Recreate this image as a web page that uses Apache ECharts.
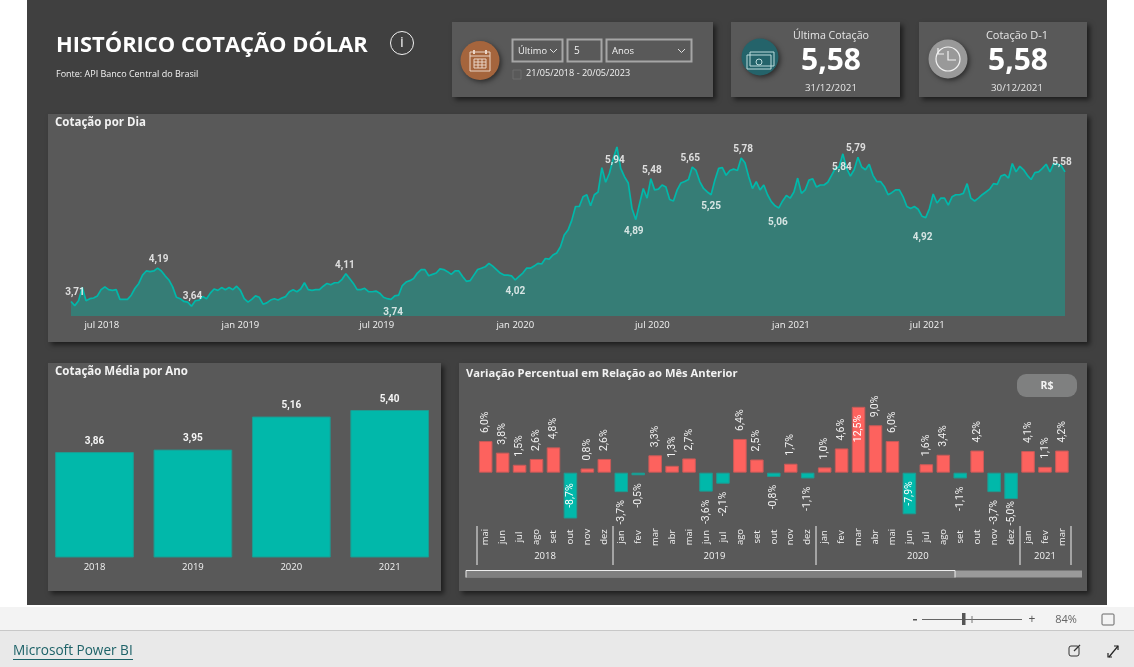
<!DOCTYPE html>
<html lang="pt">
<head>
<meta charset="utf-8">
<title>Histórico Cotação Dólar</title>
<script src="https://cdn.jsdelivr.net/npm/echarts@6/dist/echarts.min.js"></script>
<style>
html,body{margin:0;padding:0;background:#fff;width:1134px;height:667px;overflow:hidden}
#c{width:1134px;height:667px}
</style>
</head>
<body>
<div id="c"></div>
<script>
// ---------- data ----------
const firstDay = [2018, 4, 21];
const stepDays = 5;
const dailyRate = [
3.71,3.65,3.72,3.91,3.72,3.75,3.76,3.79,3.88,3.92,3.88,3.87,3.88,3.74,3.74,3.74,3.80,3.90,3.97,4.09,
4.15,4.14,4.15,4.19,4.15,4.08,4.02,3.92,3.77,3.75,3.71,3.70,3.64,3.72,3.73,3.78,3.75,3.83,3.89,3.87,
3.91,3.88,3.91,3.88,3.93,3.87,3.75,3.70,3.74,3.79,3.77,3.67,3.69,3.73,3.75,3.73,3.76,3.78,3.85,3.88,
3.85,3.89,3.98,3.88,3.87,3.88,3.88,3.93,3.97,3.95,3.98,3.98,4.03,4.11,4.04,3.97,3.88,3.88,3.90,3.85,
3.85,3.86,3.83,3.77,3.75,3.74,3.79,3.80,3.94,3.99,4.01,4.04,4.12,4.17,4.17,4.08,4.10,4.12,4.18,4.17,
4.14,4.10,4.15,4.15,4.07,4.00,4.01,4.09,4.17,4.19,4.21,4.26,4.22,4.17,4.12,4.09,4.09,4.08,4.02,4.07,
4.12,4.19,4.19,4.22,4.26,4.25,4.33,4.32,4.38,4.41,4.50,4.67,4.74,4.88,5.08,5.08,5.22,5.25,5.09,5.25,
5.29,5.64,5.43,5.56,5.77,5.94,5.63,5.51,5.42,5.05,4.89,5.12,5.34,5.20,5.48,5.32,5.33,5.39,5.36,5.18,
5.16,5.32,5.42,5.44,5.47,5.65,5.60,5.44,5.34,5.29,5.25,5.46,5.63,5.64,5.53,5.60,5.62,5.60,5.78,5.71,
5.51,5.34,5.44,5.32,5.39,5.25,5.15,5.09,5.06,5.16,5.24,5.20,5.29,5.49,5.27,5.32,5.46,5.48,5.36,5.39,
5.39,5.43,5.53,5.63,5.65,5.84,5.63,5.52,5.61,5.79,5.65,5.61,5.69,5.53,5.44,5.44,5.37,5.25,5.28,5.32,
5.32,5.22,5.08,5.05,5.08,5.04,4.94,4.92,5.05,5.26,5.13,5.20,5.20,5.10,5.22,5.25,5.25,5.27,5.41,5.20,
5.16,5.20,5.25,5.29,5.33,5.41,5.40,5.52,5.54,5.49,5.70,5.58,5.66,5.61,5.53,5.47,5.57,5.58,5.63,5.69,
5.58,5.70,5.69,5.67,5.58
];
const labelledPoints = [0,23,32,73,85,118,145,150,154,165,170,178,188,205,209,227,264];
const timeTickDays = [[2018,6,1],[2019,0,1],[2019,6,1],[2020,0,1],[2020,6,1],[2021,0,1],[2021,6,1]];
const timeTickNames = ['jul 2018','jan 2019','jul 2019','jan 2020','jul 2020','jan 2021','jul 2021'];

const yearNames = ['2018','2019','2020','2021'];
const yearAverage = [3.86,3.95,5.16,5.40];

const monthNames = ['mai','jun','jul','ago','set','out','nov','dez',
 'jan','fev','mar','abr','mai','jun','jul','ago','set','out','nov','dez',
 'jan','fev','mar','abr','mai','jun','jul','ago','set','out','nov','dez',
 'jan','fev','mar'];
const monthChange = [6.0,3.8,1.5,2.6,4.8,-8.7,0.8,2.6,
 -3.7,-0.5,3.3,1.3,2.7,-3.6,-2.1,6.4,2.5,-0.8,1.7,-1.1,
 1.0,4.6,12.5,9.0,6.0,-7.9,1.6,3.4,-1.1,4.2,-3.7,-5.0,
 4.1,1.1,4.2];
const yearBoundaries = [0,8,20,32,35];
const yearCentres = [4,14,26,33.5];

// ---------- presentation ----------
const NARROW = '"Liberation Sans Narrow","Roboto",sans-serif';
const UI = '"Open Sans","Noto Sans",sans-serif';
const TEAL = '#01B8AA', RED = '#FD625E', PANEL = '#595959', TXT = '#f2f2f2';
const comma = (v, d) => v.toFixed(d).replace('.', ',');
const dayAt = i => new Date(firstDay[0], firstDay[1], firstDay[2] + i * stepDays);
const tickTimes = timeTickDays.map(d => new Date(d[0], d[1], d[2]).getTime());

// label placement for the highlighted points of the daily line: index -> [side, dx, distance]
const labelPlace = {0:['top',4,3],23:['top',1,3],32:['top',1,4],73:['top',-1,3],85:['bottom',2,8],118:['bottom',0,6],
 145:['bottom',-2,8],150:['bottom',-2,6],154:['top',1,3],165:['top',-2,3],170:['bottom',0,6],178:['top',2,3],
 188:['bottom',-1,9],205:['bottom',-1,8],209:['top',-2,3],227:['bottom',-3,14],264:['top',-3,4]};

const panel = (x, y, w, h) => ({type:'rect', shape:{x, y, width:w, height:h},
  style:{fill:PANEL, shadowBlur:5, shadowOffsetX:3, shadowOffsetY:3, shadowColor:'rgba(0,0,0,.55)'}});
const text = (x, y, t, font, fill, align) => ({type:'text', x, y:y+1.5,
  style:{text:t, font, fill:fill || TXT, textAlign:align || 'left', textVerticalAlign:'middle'}});
const box = (x, y, w, h, stroke, lw, r) => ({type:'rect', shape:{x, y, width:w, height:h, r:r || 0},
  style:{fill:'none', stroke, lineWidth:lw || 1}});
const line = (x1, y1, x2, y2, stroke, lw) => ({type:'line', shape:{x1, y1, x2, y2},
  style:{stroke, lineWidth:lw || 1}});
const poly = (pts, stroke, lw) => ({type:'polyline', shape:{points:pts}, style:{stroke, lineWidth:lw || 1, fill:'none'}});
const disc = (cx, cy, r, fill) => ({type:'circle', shape:{cx, cy, r},
  style:{fill, shadowBlur:5, shadowOffsetX:2, shadowOffsetY:2, shadowColor:'rgba(0,0,0,.5)'}});
const ring = (cx, cy, r, stroke, lw) => ({type:'circle', shape:{cx, cy, r}, style:{fill:'none', stroke, lineWidth:lw || 1}});
const fill = (x, y, w, h, c, r) => ({type:'rect', shape:{x, y, width:w, height:h, r:r || 0}, style:{fill:c}});

const calLines = '#ead5c6', moneyLines = '#bcdcdc', clockLines = '#f2f2f2';
const graphics = [
  // page
  fill(27, 0, 1080, 605, '#404040'),
  fill(0, 607, 1134, 23, '#f3f3f3'),
  fill(0, 630, 1134, 1, '#c8c8c8'),
  fill(0, 631, 1134, 36, '#e9e9e9'),
  // panels
  panel(452, 22, 261, 75), panel(731, 22, 169, 75), panel(919, 22, 168, 75),
  panel(48, 114, 1039, 228), panel(48, 363, 393, 228), panel(459, 363, 628, 228),
  // header
  text(56, 44, 'HISTÓRICO COTAÇÃO DÓLAR', 'bold 21.9px '+UI, '#ffffff'),
  text(56, 73, 'Fonte: API Banco Central do Brasil', '9px '+UI, '#f2f2f2'),
  ring(402, 43, 11.5, '#f2f2f2', 1),
  text(402, 41.5, 'i', '15px '+UI, '#f2f2f2', 'center'),
  // panel titles
  text(55, 121, 'Cotação por Dia', 'bold 11.5px '+UI),
  text(55, 370, 'Cotação Média por Ano', 'bold 11.5px '+UI),
  text(466, 372, 'Variação Percentual em Relação ao Mês Anterior', 'bold 11.2px '+UI),
  // calendar icon
  disc(480, 60.5, 19.5, '#A5653D'),
  box(470, 52, 20, 19, calLines, 1),
  line(470, 56, 490, 56, calLines),
  box(474, 59, 12, 9, calLines, 1),
  line(474, 62, 486, 62, calLines), line(474, 65, 486, 65, calLines),
  line(478, 59, 478, 68, calLines), line(482, 59, 482, 68, calLines),
  line(474, 50, 474, 54, calLines, 2), line(486, 50, 486, 54, calLines, 2),
  // filter
  box(512.5, 39.5, 50, 22, '#a6a6a6', 2),
  box(567.5, 39.5, 34, 22, '#a6a6a6', 2),
  box(606.5, 39.5, 85, 22, '#a6a6a6', 2),
  text(518, 49.5, 'Último', '9.3px '+UI),
  poly([[550,49],[553.5,52.5],[557,49]], '#e0e0e0'),
  text(574, 50, '5', '10px '+UI),
  text(612, 49.5, 'Anos', '9.5px '+UI),
  poly([[678,49],[681.5,52.5],[685,49]], '#e0e0e0'),
  box(513, 70, 8, 9, '#6d6d6d', 1),
  text(526, 72, '21/05/2018 - 20/05/2023', '9.1px '+UI),
  // money icon
  disc(760, 57, 18.5, '#24636A'),
  box(750, 52, 24, 14, moneyLines, 1),
  box(747, 55, 24, 14, moneyLines, 1),
  ring(759, 62, 3, moneyLines, 1),
  // KPI 1
  text(831, 34, 'Última Cotação', '10.7px '+UI, '#e6e6e6', 'center'),
  text(831, 60, '5,58', 'bold 30px '+UI, '#ffffff', 'center'),
  text(831, 87, '31/12/2021', '9.8px '+UI, '#e6e6e6', 'center'),
  // clock icon
  disc(948, 59, 19.5, '#999999'),
  ring(948, 59, 12, clockLines, 1.2),
  poly([[948,51],[948,60],[956,60]], clockLines, 1.2),
  poly([[938,48],[938,54],[944,54]], clockLines, 1.2),
  // KPI 2
  text(1017, 34, 'Cotação D-1', '11px '+UI, '#e6e6e6', 'center'),
  text(1018, 60, '5,58', 'bold 30px '+UI, '#ffffff', 'center'),
  text(1017, 87, '30/12/2021', '9.8px '+UI, '#e6e6e6', 'center'),
  // R$ button
  fill(1017, 374, 60, 23, '#7f8080', 9),
  text(1047, 385, 'R$', 'bold 10.5px '+UI, '#f2f2f2', 'center'),
  // scrollbar
  fill(466, 570.5, 616, 7, '#9a9a9a'),
  fill(466, 570.5, 489, 7, '#7f7f7f'),
  line(466, 570.5, 955, 570.5, '#eeeeee', 1),
  line(466, 570.5, 466, 577.5, '#eeeeee', 1),
  line(955, 570.5, 955, 577.5, '#eeeeee', 1),
  // footer
  text(13, 650, 'Microsoft Power BI', '13.6px '+UI, '#1d6268'),
  line(13, 659.5, 133, 659.5, '#1d6268', 1),
  fill(913, 619, 4, 1.5, '#555555'),
  line(922, 619.5, 1022, 619.5, '#666666', 1),
  fill(962, 613, 3.5, 12, '#555555'),
  line(972, 616, 972, 623, '#777777', 1),
  text(1032, 618, '+', '12px '+UI, '#555555', 'center'),
  text(1066, 618, '84%', '11px '+UI, '#666666', 'center'),
  box(1102, 614, 12, 11, '#666666', 1, 1),
  box(1069, 646, 10, 10, '#333333', 1, 2),
  poly([[1074,651],[1080,645]], '#333333', 1.2),
  line(1109, 657, 1118, 646, '#222222', 1.2),
  poly([[1114,646],[1118,646],[1118,650]], '#222222', 1.2),
  poly([[1108,653],[1108,657],[1112,657]], '#222222', 1.2)
];

const monthData = monthChange.map(v => {
  const inside = v === -8.7 || v === -7.9;
  const insideTop = v === 12.5;
  return {
    value: v,
    itemStyle: {color: v >= 0 ? RED : TEAL, borderColor: v >= 0 ? '#c85a58' : '#1f9a90', borderWidth: 1},
    label: inside ? {position:'inside', align:'center', verticalAlign:'middle', color:'#fff'}
      : insideTop ? {position:'insideTop', align:'right', verticalAlign:'middle', distance:8, color:'#fff'}
      : v >= 0 ? {position:'top', align:'left', verticalAlign:'middle', distance:8}
      : {position:'bottom', align:'right', verticalAlign:'middle', distance:v === -5.0 ? 2 : 8}
  };
});

const option = {
  animation: false,
  backgroundColor: '#ffffff',
  graphic: {elements: graphics},
  grid: [
    {left:71, top:142.75, width:994, height:173.25},
    {left:45.3, top:410, width:393.6, height:147.5},
    {left:477.2, top:406.8, width:593.2, height:111.7}
  ],
  xAxis: [
    {type:'value', gridIndex:0, min:dayAt(0).getTime(), max:dayAt(dailyRate.length-1).getTime(),
     axisLine:{show:false}, axisTick:{show:false}, splitLine:{show:false},
     axisLabel:{customValues:tickTimes, color:TXT, fontFamily:UI, fontSize:9.5, margin:4, hideOverlap:false,
       formatter:v => timeTickNames[tickTimes.indexOf(+v)] || ''}},
    {type:'category', gridIndex:1, data:yearNames, axisLine:{show:false}, axisTick:{show:false},
     axisLabel:{color:TXT, fontFamily:UI, fontSize:9.5, margin:5}},
    {type:'category', gridIndex:2, data:monthNames, axisLine:{show:false}, axisTick:{show:false},
     axisLabel:{interval:0, rotate:90, align:'center', verticalAlign:'middle', margin:18.5,
       color:TXT, fontFamily:UI, fontSize:9.5}},
    {type:'value', gridIndex:2, min:0, max:35, position:'bottom', offset:7.5, splitLine:{show:false},
     axisLine:{show:false},
     axisTick:{show:true, customValues:yearBoundaries, length:39, lineStyle:{color:'#bdbdbd', width:1.5}},
     axisLabel:{customValues:yearCentres, color:TXT, fontFamily:UI, fontSize:9.5, margin:25.5,
       formatter:v => yearNames[yearCentres.indexOf(+v)] || ''}}
  ],
  yAxis: [
    {type:'value', gridIndex:0, min:3.5, max:6, show:false},
    {type:'value', gridIndex:1, min:0, max:5.4, show:false},
    {type:'value', gridIndex:2, min:-8.7, max:12.5, show:false}
  ],
  series: [
    {type:'line', xAxisIndex:0, yAxisIndex:0, showSymbol:false, lineStyle:{color:TEAL, width:1.7},
     areaStyle:{color:'#367D76', opacity:1}, itemStyle:{color:TEAL},
     data:dailyRate.map((v,i) => [dayAt(i).getTime(), v])},
    {type:'scatter', xAxisIndex:0, yAxisIndex:0, z:6, zlevel:1, symbolSize:1, itemStyle:{color:'rgba(0,0,0,0)'},
     data:labelledPoints.map(i => ({
       value:[dayAt(i).getTime(), dailyRate[i]],
       label:{show:true, position:labelPlace[i][0], distance:labelPlace[i][2], offset:[labelPlace[i][1],0],
         formatter:comma(dailyRate[i],2), color:'#ffffff', fontFamily:NARROW, fontWeight:'bold', fontSize:10}
     }))},
    {type:'bar', xAxisIndex:1, yAxisIndex:1, barWidth:'80%', itemStyle:{color:TEAL, borderColor:'#1f9a90', borderWidth:1},
     label:{show:true, position:'top', distance:6, color:'#f5f5f5', fontFamily:NARROW, fontWeight:'bold', fontSize:10,
       formatter:p => comma(p.value,2)},
     data:yearAverage},
    {type:'bar', xAxisIndex:2, yAxisIndex:2, barWidth:'80%',
     label:{show:true, rotate:90, color:'#f2f2f2', fontFamily:NARROW, fontSize:10.5, fontWeight:'normal',
       formatter:p => comma(p.value,1)+'%'},
     data:monthData}
  ]
};
const chart = echarts.init(document.getElementById('c'), null, {renderer:'canvas'});
chart.setOption(option);
</script>
</body>
</html>
